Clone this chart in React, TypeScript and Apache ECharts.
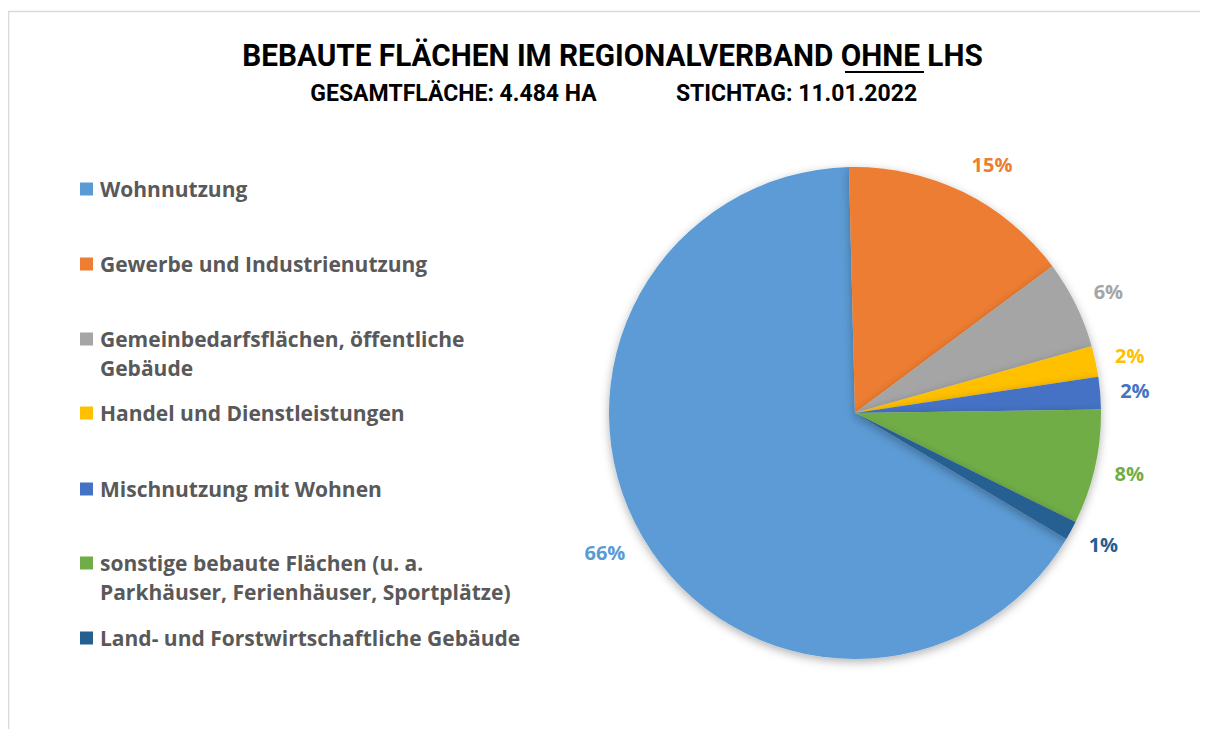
import React, { useEffect, useRef } from "react";
import * as echarts from "echarts";

const categories = [
  "Wohnnutzung",
  "Gewerbe und Industrienutzung",
  "Gemeinbedarfsflächen, öffentliche\nGebäude",
  "Handel und Dienstleistungen",
  "Mischnutzung mit Wohnen",
  "sonstige bebaute Flächen (u. a.\nParkhäuser, Ferienhäuser, Sportplätze)",
  "Land- und Forstwirtschaftliche Gebäude",
];
// hectares (total 4.484 ha)
const values = [2962, 682, 260, 91, 95, 338, 56];
const colors = ["#5B9BD5", "#ED7D31", "#A5A5A5", "#FFC000", "#4472C4", "#70AD47", "#255E91"];

const titleText = "BEBAUTE FLÄCHEN IM REGIONALVERBAND OHNE LHS";
const subtitleLeft = "GESAMTFLÄCHE: 4.484 HA";
const subtitleRight = "STICHTAG: 11.01.2022";

// layout constants
const CX = 847;
const CY = 405;
const RADIUS = 246;
const LABEL_R = 266;
const FIRST_BOUNDARY = -1.4; // clockwise degrees from 12 o'clock where first slice ends
const legendRows = [181, 256, 331, 405, 481, 555, 630];

export default function App() {
  const ref = useRef<HTMLDivElement>(null);
  useEffect(() => {
    if (!ref.current) return;
    const chart = echarts.init(ref.current, undefined, { renderer: "svg" });
    const total = values.reduce((a, b) => a + b, 0);
    const startAngle = 90 - FIRST_BOUNDARY + (values[0] / total) * 360;
    const mids: number[] = [];
    let cum = FIRST_BOUNDARY - (values[0] / total) * 360;
    values.forEach((v) => {
      const span = (v / total) * 360;
      mids.push(cum + span / 2);
      cum += span;
    });
    const font = "'Open Sans', 'Noto Sans', sans-serif";
    const legends = categories.map((name, i) => {
      const twoLine = name.includes("\n");
      return {
        show: true,
        orient: "vertical",
        left: 72,
        top: legendRows[i] - (twoLine ? 43.5 : 14.5),
        data: [name],
        icon: "rect",
        itemWidth: 13,
        itemHeight: 13,
        itemGap: 0,
        selectedMode: false,
        padding: 0,
        formatter: (n: string) => (twoLine ? "\n" + n : n),
        textStyle: {
          color: "#595959",
          fontFamily: font,
          fontWeight: "bold",
          fontSize: 21,
          lineHeight: 29,
          padding: [0, 0, 0, 2],
        },
      };
    });
    chart.setOption({
      animation: false,
      color: colors,
      legend: legends,
      graphic: [
        {
          type: "rect",
          shape: { x: 0.5, y: 3.5, width: 1400, height: 900 },
          style: { fill: "none", stroke: "#d9d9d9", lineWidth: 1.5 },
          silent: true,
        },
        {
          type: "text",
          x: 604.5,
          y: 47,
          scaleX: 0.93,
          style: {
            text: titleText,
            align: "center",
            verticalAlign: "middle",
            fill: "#000",
            font: "bold 32px Roboto, sans-serif",
          },
        },
        {
          type: "line",
          shape: { x1: 837, y1: 64, x2: 916, y2: 64 },
          style: { stroke: "#000", lineWidth: 2 },
        },
        {
          type: "text",
          x: 445.5,
          y: 85,
          style: {
            text: subtitleLeft,
            align: "center",
            verticalAlign: "middle",
            fill: "#000",
            font: "bold 23px Roboto, sans-serif",
          },
        },
        {
          type: "text",
          x: 788.5,
          y: 85,
          style: {
            text: subtitleRight,
            align: "center",
            verticalAlign: "middle",
            fill: "#000",
            font: "bold 23px Roboto, sans-serif",
          },
        },
      ],
      series: [
        {
          type: "pie",
          center: [CX, CY],
          radius: [0, RADIUS],
          startAngle,
          clockwise: true,
          avoidLabelOverlap: false,
          data: categories.map((name, i) => ({
            name,
            value: values[i],
            itemStyle: { color: colors[i] },
            label: { color: colors[i] },
          })),
          itemStyle: {
            borderWidth: 0,
            shadowBlur: 10,
            shadowColor: "rgba(0,0,0,0.3)",
            shadowOffsetX: 0,
            shadowOffsetY: 3,
          },
          label: {
            show: true,
            position: "outside",
            formatter: (p: any) => Math.round(p.percent) + "%",
            fontFamily: font,
            fontWeight: "bold",
            fontSize: 20,
          },
          labelLine: { show: false },
          labelLayout: (p: any) => {
            const a = (mids[p.dataIndex] * Math.PI) / 180;
            const s = Math.sin(a);
            const c = Math.cos(a);
            const w = p.labelRect.width;
            const h = p.labelRect.height;
            return {
              x: CX + LABEL_R * s + (w / 2) * Math.sign(s),
              y: CY - LABEL_R * c - (h / 2) * c,
              align: "center",
              verticalAlign: "middle",
            };
          },
          emphasis: { disabled: true },
        },
      ],
    });
    return () => chart.dispose();
  }, []);
  return <div ref={ref} style={{ width: 1200, height: 721 }} />;
}
